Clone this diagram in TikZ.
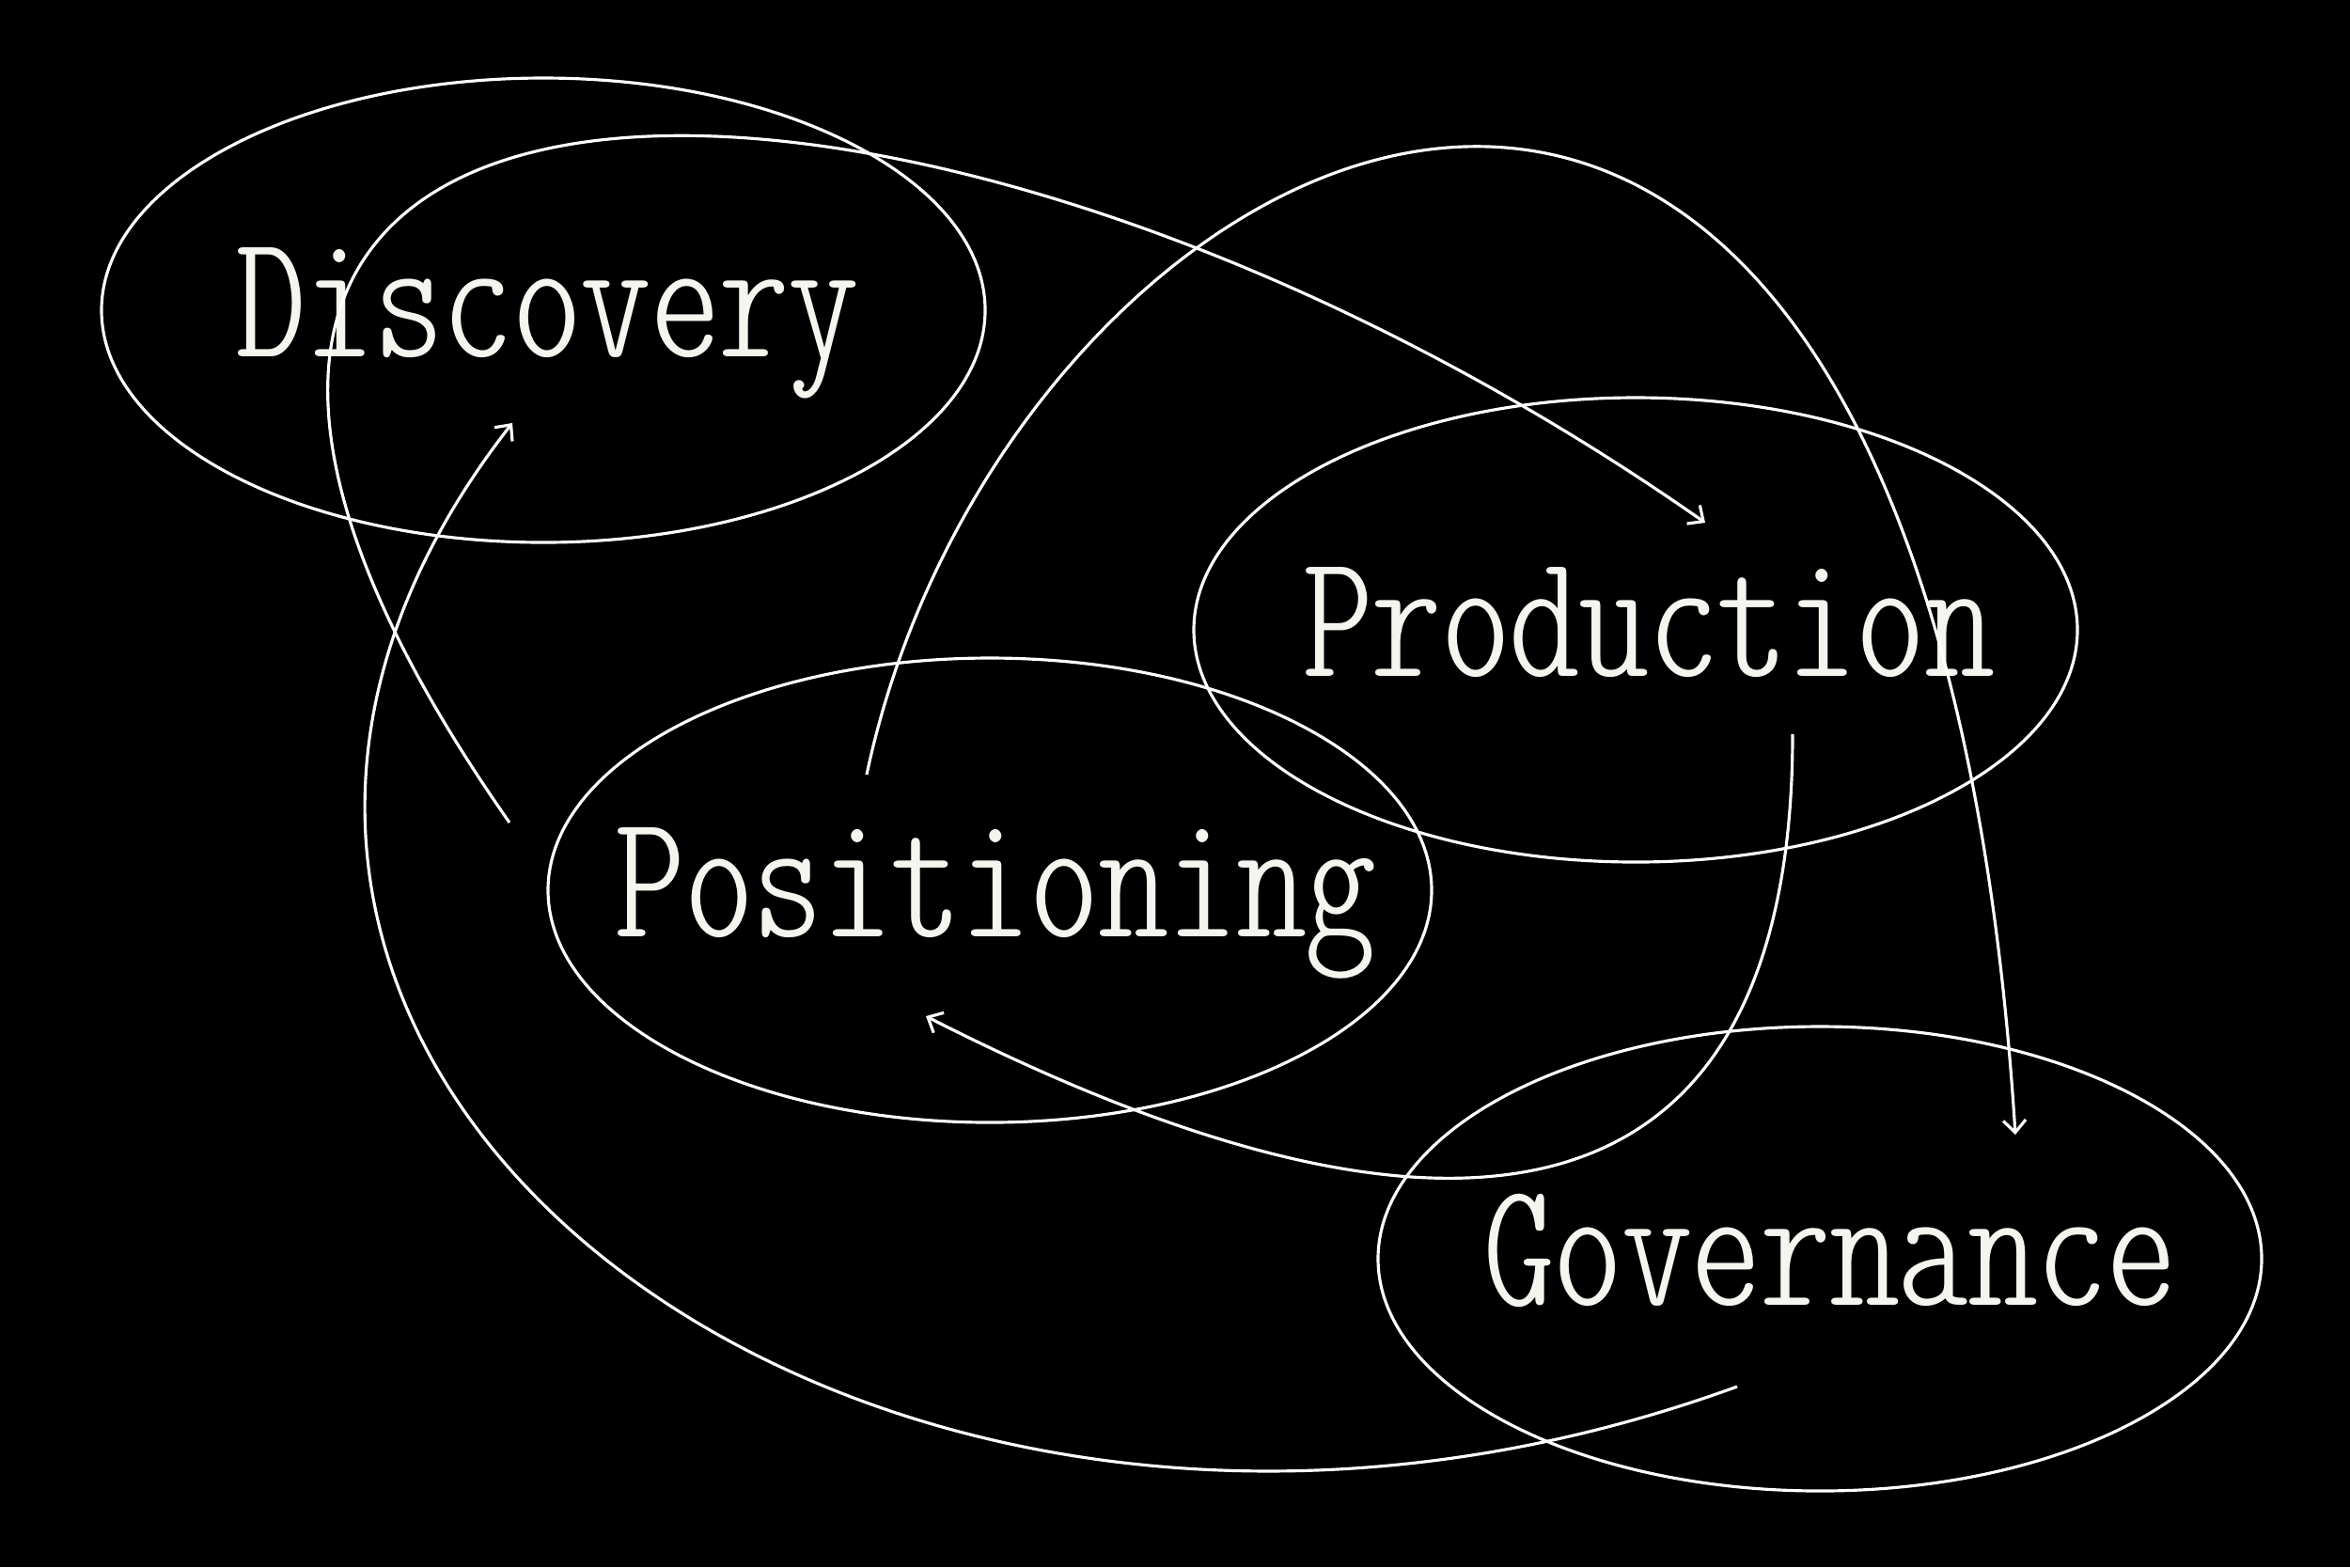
\documentclass[tikz,border=0pt]{standalone}
\usepackage{graphicx}
\usetikzlibrary{shapes.geometric,arrows.meta}

\definecolor{inkwhite}{RGB}{245,245,240}
\newcommand{\widename}[1]{\scalebox{1.107}[1]{#1}}

\begin{document}
\begin{tikzpicture}[
    stage/.style={draw=white, ellipse, line width=0.9pt,
                  minimum width=9.4cm, minimum height=4.94cm, inner sep=0pt},
    stagename/.style={anchor=base, text=inkwhite, inner sep=0pt,
                  font=\fontfamily{lmtt}\fontseries{lc}\fontsize{54}{62}\selectfont},
    flow/.style={-{Straight Barb[length=1.3mm, width=2.4mm]}, draw=white,
                 line width=0.9pt}
]

% page
\fill[black] (0,0) rectangle (25,-16.67);
\useasboundingbox (0,0) rectangle (25,-16.67);

% stages
\node[stage] (disc) at (5.78,-3.30)  {};
\node[stage] (prod) at (17.40,-6.70) {};
\node[stage] (posi) at (10.53,-9.47) {};
\node[stage] (gov)  at (19.36,-13.39) {};

\node[stagename] (disctxt) at ([xshift=0.4mm, yshift=-4.9mm]disc.center) {\widename{Discovery}};
\node[stagename] (prodtxt) at ([xshift=1.4mm, yshift=-4.9mm]prod.center) {\widename{Production}};
\node[stagename] (positxt) at ([xshift=0.6mm, yshift=-4.9mm]posi.center) {\widename{Positioning}};
\node[stagename] (govtxt)  at ([xshift=1.1mm, yshift=-4.9mm]gov.center)  {\widename{Governance}};

% loose ends of the arcs
\coordinate (posiout) at (5.42,-8.75);
\coordinate (prodin)  at (18.14,-5.56);
\coordinate (positop) at (9.22,-8.24);
\coordinate (govin)   at (21.44,-12.07);
\coordinate (prodout) at (19.07,-7.81);
\coordinate (posiin)  at (9.85,-10.81);
\coordinate (govout)  at (18.48,-14.75);
\coordinate (discin)  at (5.45,-4.50);

\draw[flow] (posiout) .. controls +(-6.31,9.01) and +(-8.60,6.02) .. (prodin);
\draw[flow] (positop) .. controls +(1.50,7.10) and +(-1.00,15.80) .. (govin);
\draw[flow] (prodout) .. controls +(0,-5.20) and +(5.79,-2.95) .. (posiin);
\draw[flow] (govout) .. controls +(-9.40,-3.42) and +(-5.23,-6.70) .. (discin);

\end{tikzpicture}
\end{document}
